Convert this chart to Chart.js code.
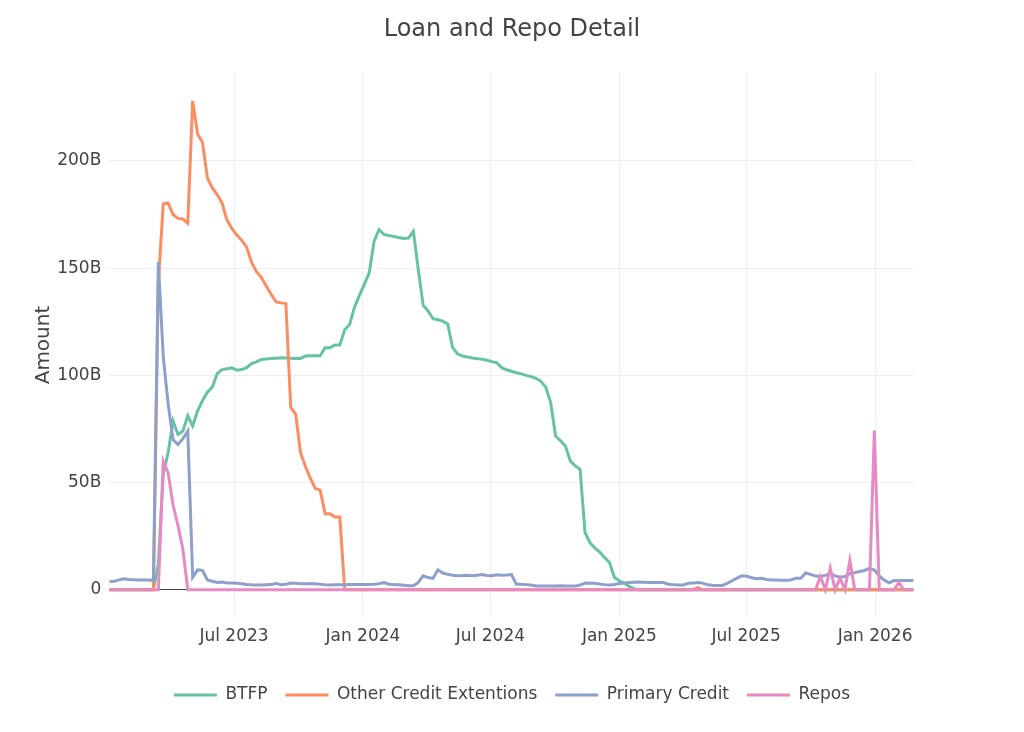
<!DOCTYPE html>
<html>
<head>
<meta charset="utf-8">
<title>Loan and Repo Detail</title>
<script src="https://cdn.jsdelivr.net/npm/chart.js@4.4.1/dist/chart.umd.min.js"></script>
<style>
  html, body { margin: 0; padding: 0; background: #fff; }
  #wrap { width: 1024px; height: 732px; position: relative; }
</style>
</head>
<body>
<div id="wrap"><canvas id="chart"></canvas></div>
<script>
// weekly (Wednesday) levels, billions of dollars, from 2023-01-04
const firstWeek = '2023-01-04';

const xTickDates = ['2023-07-01', '2024-01-01', '2024-07-01', '2025-01-01', '2025-07-01', '2026-01-01'];
const xTickLabels = ['Jul 2023', 'Jan 2024', 'Jul 2024', 'Jan 2025', 'Jul 2025', 'Jan 2026'];
const yTicks = [0, 50, 100, 150, 200];

const btfp = [
  0, 0, 0, 0, 0, 0, 0, 0, 0, 0,
  12, 54, 64, 78.7, 72.4, 74, 81.1, 76.4, 83.5, 88.2,
  92.1, 94.5, 100.8, 102.7, 103.1, 103.5, 102.4, 102.7, 103.6, 105.5,
  106.3, 107.4, 107.6, 107.8, 108, 108.2, 108.1, 108, 107.9, 107.9,
  109, 109.1, 109.1, 109.1, 112.9, 112.9, 114.2, 114.2, 121.3, 123.7,
  131.8, 137.3, 142.4, 147.8, 162.6, 168, 165.7, 165.2, 164.8, 164.3,
  163.8, 164, 167.2, 149.4, 132.6, 130, 126.4, 125.9, 125.3, 124,
  113, 110, 109, 108.6, 108.1, 107.8, 107.5, 107, 106.4, 105.9,
  103.6, 102.6, 101.9, 101.2, 100.7, 100, 99.4, 98.6, 97.2, 94.5,
  87.3, 71.7, 69.5, 67, 60.1, 57.8, 56.2, 26.7, 22, 19.5,
  17.6, 15.1, 12.7, 5.7, 4.2, 3.0, 1.6, 0.5, 0, 0,
  0, 0, 0, 0, 0, 0, 0, 0, 0, 0,
  0, 0, 0, 0, 0, 0, 0, 0, 0, 0,
  0, 0, 0, 0, 0, 0, 0, 0, 0, 0,
  0, 0, 0, 0, 0, 0, 0, 0, 0, 0,
  0, 0, 0, 0, 0, 0, 0, 0, 0, 0,
  0, 0, 0, 0, 0
];

const otherCredit = [
  0, 0, 0, 0, 0, 0, 0, 0, 0, 0,
  143, 180, 180.3, 175, 173.2, 172.9, 170.9, 228, 212.6, 208.7,
  192.1, 187.4, 184.3, 180.3, 172.4, 168.5, 165.4, 163, 159.8, 152.8,
  148.3, 145.7, 141.7, 137.8, 134.2, 133.8, 133.5, 85, 81.9, 63.8,
  57.5, 52, 47.2, 46.5, 35.4, 35.4, 33.9, 33.9, 0, 0,
  0, 0, 0, 0, 0, 0, 0, 0, 0, 0,
  0, 0, 0, 0, 0, 0, 0, 0, 0, 0,
  0, 0, 0, 0, 0, 0, 0, 0, 0, 0,
  0, 0, 0, 0, 0, 0, 0, 0, 0, 0,
  0, 0, 0, 0, 0, 0, 0, 0, 0, 0,
  0, 0, 0, 0, 0, 0, 0, 0, 0, 0,
  0, 0, 0, 0, 0, 0, 0, 0, 0, 0,
  1.0, 0, 0, 0, 0, 0, 0, 0, 0, 0,
  0, 0, 0, 0, 0, 0, 0, 0, 0, 0,
  0, 0, 0, 0, 0, 0, 0, 0, 0, 0,
  0, 0, 0, 0, 0, 0, 0, 0, 0, 0,
  0, 0, 0, 0, 0
];

const primaryCredit = [
  3.9, 4.0, 4.6, 5.1, 4.8, 4.7, 4.6, 4.5, 4.5, 4.4,
  152.8, 108.7, 86.6, 70, 67.7, 70.5, 74, 5.8, 9.3, 9.0,
  4.6, 4.0, 3.4, 3.6, 3.2, 3.2, 3.0, 2.8, 2.5, 2.3,
  2.2, 2.2, 2.3, 2.4, 3.0, 2.3, 2.6, 3.1, 3.0, 2.8,
  2.8, 2.9, 2.8, 2.6, 2.3, 2.2, 2.3, 2.3, 2.3, 2.4,
  2.4, 2.4, 2.5, 2.5, 2.6, 2.8, 3.4, 2.6, 2.4, 2.3,
  2.1, 1.9, 1.9, 3.4, 6.5, 5.7, 5.3, 9.3, 7.8, 7.2,
  6.8, 6.5, 6.6, 6.8, 6.5, 6.8, 7.1, 6.7, 6.5, 7.0,
  6.8, 6.9, 7.1, 2.6, 2.6, 2.4, 2.2, 1.8, 1.7, 1.7,
  1.7, 1.8, 1.9, 1.8, 1.7, 1.7, 2.2, 3.1, 3.0, 3.0,
  2.7, 2.4, 2.2, 2.5, 2.9, 3.2, 3.4, 3.5, 3.6, 3.5,
  3.4, 3.4, 3.4, 3.4, 2.6, 2.4, 2.2, 2.2, 3.0, 3.1,
  3.4, 3.1, 2.3, 2.1, 2.0, 2.0, 3.0, 4.2, 5.4, 6.5,
  6.3, 5.6, 5.1, 5.4, 4.8, 4.6, 4.5, 4.4, 4.4, 4.6,
  5.4, 5.4, 7.8, 7.2, 6.4, 6.2, 6.7, 7.6, 6.5, 5.9,
  6.2, 7.5, 8.0, 8.5, 9.0, 10.0, 9.2, 6.5, 4.5, 3.2,
  4.3, 4.3, 4.3, 4.3, 4.3
];

const repos = [
  0, 0, 0, 0, 0, 0, 0, 0, 0, 0,
  0, 60, 54.5, 39.5, 30, 19, 0, 0, 0, 0,
  0, 0, 0, 0, 0, 0, 0, 0, 0, 0,
  0, 0, 0, 0, 0, 0, 0, 0, 0, 0,
  0, 0, 0, 0, 0, 0, 0, 0, 0, 0,
  0, 0, 0, 0, 0, 0, 0, 0, 0, 0,
  0, 0, 0, 0, 0, 0, 0, 0, 0, 0,
  0, 0, 0, 0, 0, 0, 0, 0, 0, 0,
  0, 0, 0, 0, 0, 0, 0, 0, 0, 0,
  0, 0, 0, 0, 0, 0, 0, 0, 0, 0,
  0, 0, 0, 0, 0, 0, 0, 0, 0, 0,
  0, 0, 0, 0, 0, 0, 0, 0, 0, 0,
  0, 0, 0, 0, 0, 0, 0, 0, 0, 0,
  0, 0, 0, 0, 0, 0, 0, 0, 0, 0,
  0, 0, 0, 0, 0, 6.2, 0, 10.1, 0, 5.4,
  0, 13.7, 0, 0, 0, 0, 74.3, 0, 0, 0,
  0, 3.4, 0, 0, 0
];

// one date per weekly observation
const DAY = 24 * 3600 * 1000;
const weekDates = btfp.map((_, i) => Date.parse(firstWeek) + i * 7 * DAY);

function points(values) {
  return values.map((v, i) => ({ x: weekDates[i], y: v }));
}

Chart.defaults.font.family = "'DejaVu Sans', Verdana, sans-serif";
Chart.defaults.color = '#444';

const series = [
  { label: 'BTFP', values: btfp, color: '#66c2a5', order: 3 },
  { label: 'Other Credit Extentions', values: otherCredit, color: '#fc8d62', order: 2 },
  { label: 'Primary Credit', values: primaryCredit, color: '#8da0cb', order: 1 },
  { label: 'Repos', values: repos, color: '#e78ac3', order: 0 }
];

const ctx = document.getElementById('chart').getContext('2d');
new Chart(ctx, {
  type: 'line',
  data: {
    datasets: series.map(s => ({
      label: s.label,
      data: points(s.values),
      borderColor: s.color,
      backgroundColor: s.color,
      borderWidth: 3,
      pointRadius: 0,
      tension: 0,
      fill: false,
      order: s.order   // Repos drawn on top, like the original
    }))
  },
  options: {
    responsive: true,
    maintainAspectRatio: false,
    animation: false,
    layout: { padding: { left: 0, right: 0, top: 0, bottom: 18.5 } },
    plugins: {
      title: {
        display: true,
        text: 'Loan and Repo Detail',
        color: '#444',
        font: { size: 24, weight: 'normal' },
        padding: { top: 15.6, bottom: 28.6 }
      },
      legend: {
        position: 'bottom',
        labels: {
          usePointStyle: true,
          pointStyle: 'line',
          pointStyleWidth: 43,
          padding: 18,
          color: '#444',
          font: { size: 17 },
          sort: (a, b) => a.datasetIndex - b.datasetIndex
        }
      },
      tooltip: { enabled: false }
    },
    scales: {
      x: {
        type: 'linear',
        min: weekDates[0],
        max: weekDates[weekDates.length - 1],
        afterBuildTicks: s => { s.ticks = xTickDates.map(d => ({ value: Date.parse(d) })); },
        afterFit: s => { s.height = 51.5; },
        grid: { color: '#eee', lineWidth: 1, drawTicks: false },
        border: { display: false },
        ticks: {
          autoSkip: false,
          maxRotation: 0,
          padding: 9,
          font: { size: 17 },
          color: '#444',
          callback: (v, i) => xTickLabels[i]
        }
      },
      y: {
        min: -12.7,
        max: 241,
        afterBuildTicks: s => { s.ticks = yTicks.map(v => ({ value: v })); },
        afterFit: s => { s.width = 109.3; },
        grid: {
          color: c => (c.tick && c.tick.value === 0 ? '#444' : '#eee'),
          lineWidth: 1,
          drawTicks: false
        },
        border: { display: false },
        ticks: {
          padding: 8,
          font: { size: 17 },
          color: '#444',
          callback: v => (v === 0 ? '0' : v + 'B')
        },
        title: {
          display: true,
          text: 'Amount',
          color: '#444',
          font: { size: 20 },
          padding: { top: 32, bottom: 0 }
        }
      },
      // empty axis that keeps the right margin of the original plot
      right: {
        position: 'right',
        display: true,
        grid: { display: false },
        border: { display: false },
        ticks: { display: false },
        afterFit: s => { s.width = 110.4; }
      }
    }
  }
});
</script>
</body>
</html>
